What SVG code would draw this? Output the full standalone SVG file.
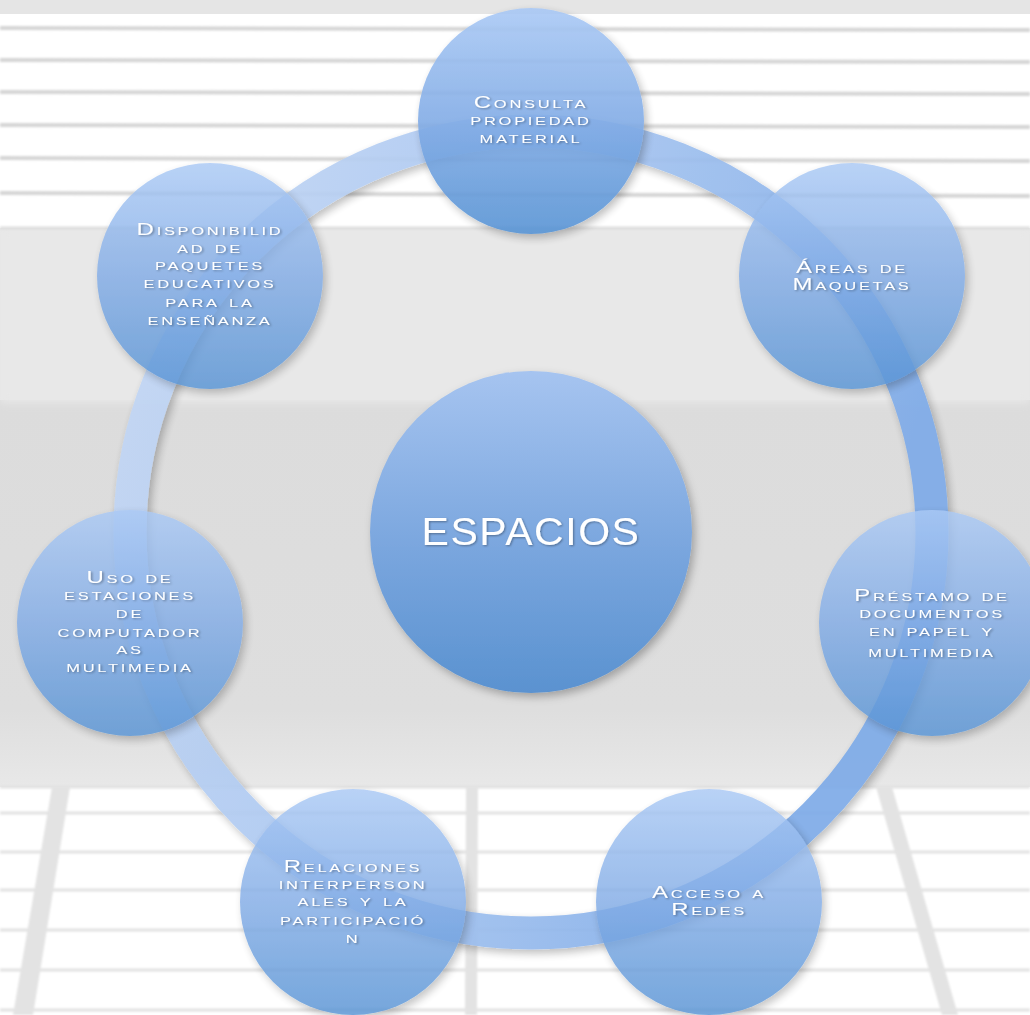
<svg xmlns="http://www.w3.org/2000/svg" width="1030" height="1015" viewBox="0 0 1030 1015">
<defs>
<linearGradient id="gNode" x1="0" y1="0" x2="0" y2="1">
<stop offset="0" stop-color="#aac9f5"/>
<stop offset="0.5" stop-color="#82ace6"/>
<stop offset="1" stop-color="#5793d4"/>
</linearGradient>
<linearGradient id="gCenter" x1="0" y1="0" x2="0" y2="1">
<stop offset="0" stop-color="#a6c4f0"/>
<stop offset="0.55" stop-color="#7aa6de"/>
<stop offset="1" stop-color="#5a92d0"/>
</linearGradient>
<linearGradient id="gRing" x1="0" y1="0" x2="1" y2="0.3">
<stop offset="0" stop-color="#c6d9f5"/>
<stop offset="0.5" stop-color="#a9c6f0"/>
<stop offset="1" stop-color="#7eabe8"/>
</linearGradient>
<linearGradient id="gLow" x1="0" y1="0" x2="0" y2="1">
<stop offset="0" stop-color="#dcdcdc"/>
<stop offset="0.8" stop-color="#dedede"/>
<stop offset="1" stop-color="#e8e8e8"/>
</linearGradient>
<filter id="shadow" x="-20%" y="-20%" width="140%" height="140%">
<feDropShadow dx="3" dy="4" stdDeviation="4" flood-color="#000" flood-opacity="0.28"/>
</filter>
<filter id="tshadow" x="-10%" y="-10%" width="120%" height="120%">
<feDropShadow dx="1" dy="1" stdDeviation="0.8" flood-color="#000" flood-opacity="0.35"/>
</filter>
<filter id="blur1"><feGaussianBlur stdDeviation="1.2"/></filter>
<filter id="blur4"><feGaussianBlur stdDeviation="4"/></filter>
</defs>
<style>
.node{fill:url(#gNode);opacity:0.82;filter:url(#shadow)}
.lbl{font-family:"Liberation Sans",Arial,sans-serif;font-size:16px;font-variant:small-caps;letter-spacing:1.8px;fill:#ffffff;text-anchor:middle}
.blind{stroke:#d6d6d6;stroke-width:4}
.win{stroke:#e2e2e2;stroke-width:3}
.mull{fill:#e3e3e3}
</style>

<g id="background">
<rect x="0" y="0" width="1030" height="1015" fill="#e7e7e7"/>
<rect x="0" y="400" width="1030" height="387" fill="url(#gLow)"/>
<rect x="0" y="228" width="1030" height="175" fill="#e8e8e8" filter="url(#blur4)"/>
<rect x="0" y="12" width="1030" height="216" fill="#ffffff"/>
<rect x="0" y="0" width="1030" height="14" fill="#e5e5e5"/>
<g filter="url(#blur1)">
<line class="blind" x1="0" y1="28" x2="1030" y2="30"/>
<line class="blind" x1="0" y1="60" x2="1030" y2="62"/>
<line class="blind" x1="0" y1="92" x2="1030" y2="94"/>
<line class="blind" x1="0" y1="125" x2="1030" y2="127"/>
<line class="blind" x1="0" y1="158" x2="1030" y2="161"/>
<line class="blind" x1="0" y1="193" x2="1030" y2="196"/>
<line x1="0" y1="228" x2="1030" y2="228" stroke="#dedede" stroke-width="3"/>
</g>
<rect x="0" y="787" width="1030" height="228" fill="#ffffff"/>
<g filter="url(#blur1)">
<line class="win" x1="0" y1="787" x2="1030" y2="787"/>
<line class="win" x1="0" y1="813" x2="1030" y2="813"/>
<line class="win" x1="0" y1="852" x2="1030" y2="852"/>
<line class="win" x1="0" y1="890" x2="1030" y2="890"/>
<line class="win" x1="0" y1="930" x2="1030" y2="930"/>
<line class="win" x1="0" y1="970" x2="1030" y2="970"/>
<line class="win" x1="0" y1="1010" x2="1030" y2="1010"/>
<polygon class="mull" points="52,787 70,787 33,1015 13,1015"/>
<polygon class="mull" points="466,787 478,787 477,1015 465,1015"/>
<polygon class="mull" points="876,787 892,787 958,1015 942,1015"/>
</g>
</g>

<g id="connectors">
<circle cx="531" cy="532" r="401" fill="none" stroke="url(#gRing)" stroke-width="33" opacity="0.92" filter="url(#shadow)"/>
</g>

<g id="node-center">
<circle cx="531" cy="532" r="161" fill="url(#gCenter)" filter="url(#shadow)"/>
<g transform="translate(531,0) scale(1.05,1)" filter="url(#tshadow)">
<text x="0" y="545" font-family="Liberation Sans, Arial, sans-serif" font-size="39" letter-spacing="1.5" fill="#ffffff" text-anchor="middle">ESPACIOS</text>
</g>
</g>

<g id="node-consulta">
<circle class="node" cx="531" cy="121" r="113" style="opacity:0.9"/>
<g transform="translate(531,0) scale(1.5,1)" filter="url(#tshadow)">
<text class="lbl"><tspan x="0" y="108">Consulta</tspan><tspan x="0" y="125">propiedad</tspan><tspan x="0" y="143">material</tspan></text>
</g>
</g>

<g id="node-areas">
<circle class="node" cx="852" cy="276" r="113"/>
<g transform="translate(852,0) scale(1.5,1)" filter="url(#tshadow)">
<text class="lbl"><tspan x="0" y="273">Áreas de</tspan><tspan x="0" y="290">Maquetas</tspan></text>
</g>
</g>

<g id="node-prestamo">
<circle class="node" cx="932" cy="623" r="113"/>
<g transform="translate(932,0) scale(1.5,1)" filter="url(#tshadow)">
<text class="lbl"><tspan x="0" y="601">Préstamo de</tspan><tspan x="0" y="618">documentos</tspan><tspan x="0" y="636">en papel y</tspan><tspan x="0" y="657">multimedia</tspan></text>
</g>
</g>

<g id="node-acceso">
<circle class="node" cx="709" cy="902" r="113"/>
<g transform="translate(709,0) scale(1.5,1)" filter="url(#tshadow)">
<text class="lbl"><tspan x="0" y="898">Acceso a</tspan><tspan x="0" y="915">Redes</tspan></text>
</g>
</g>

<g id="node-relaciones">
<circle class="node" cx="353" cy="902" r="113"/>
<g transform="translate(353,0) scale(1.5,1)" filter="url(#tshadow)">
<text class="lbl"><tspan x="0" y="872">Relaciones</tspan><tspan x="0" y="889">interperson</tspan><tspan x="0" y="906">ales y la</tspan><tspan x="0" y="925">participació</tspan><tspan x="0" y="943">n</tspan></text>
</g>
</g>

<g id="node-uso">
<circle class="node" cx="130" cy="623" r="113"/>
<g transform="translate(130,0) scale(1.5,1)" filter="url(#tshadow)">
<text class="lbl"><tspan x="0" y="583">Uso de</tspan><tspan x="0" y="600">estaciones</tspan><tspan x="0" y="618">de</tspan><tspan x="0" y="637">computador</tspan><tspan x="0" y="654">as</tspan><tspan x="0" y="672">multimedia</tspan></text>
</g>
</g>

<g id="node-disponibilidad">
<circle class="node" cx="210" cy="276" r="113"/>
<g transform="translate(210,0) scale(1.5,1)" filter="url(#tshadow)">
<text class="lbl"><tspan x="0" y="235">Disponibilid</tspan><tspan x="0" y="253">ad de</tspan><tspan x="0" y="270">paquetes</tspan><tspan x="0" y="288">educativos</tspan><tspan x="0" y="307">para la</tspan><tspan x="0" y="325">enseñanza</tspan></text>
</g>
</g>
</svg>
